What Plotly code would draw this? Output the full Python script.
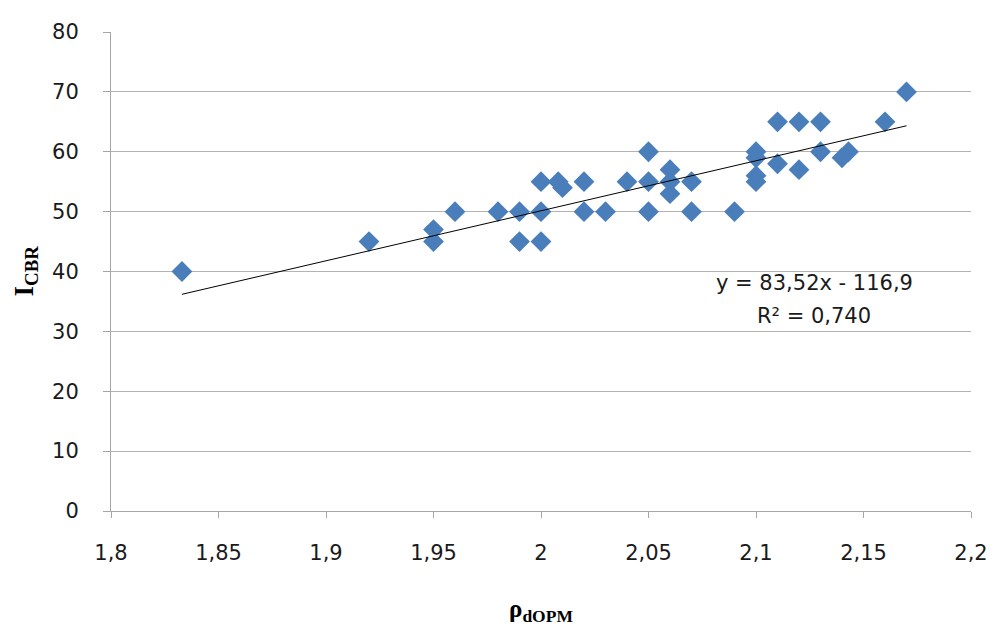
import plotly.graph_objects as go
import numpy as np

# data
rho = [1.833, 1.92, 1.95, 1.95, 1.96, 1.98, 1.99, 1.99,
       2.00, 2.00, 2.00, 2.008, 2.01, 2.02, 2.02, 2.03,
       2.04, 2.05, 2.05, 2.05, 2.06, 2.06, 2.06, 2.07, 2.07,
       2.09, 2.10, 2.10, 2.10, 2.10, 2.11, 2.11, 2.12, 2.12,
       2.13, 2.13, 2.14, 2.143, 2.16, 2.17]
icbr = [40, 45, 47, 45, 50, 50, 50, 45,
        55, 50, 45, 55, 54, 55, 50, 50,
        55, 60, 55, 50, 57, 55, 53, 55, 50,
        50, 60, 59, 56, 55, 65, 58, 65, 57,
        65, 60, 59, 60, 65, 70]

slope = 83.52
intercept = -116.9
eq_text = "y = 83,52x - 116,9"
r2_text = "R² = 0,740"

x_tickvals = [1.8, 1.85, 1.9, 1.95, 2.0, 2.05, 2.1, 2.15, 2.2]
x_ticktext = ["1,8", "1,85", "1,9", "1,95", "2", "2,05", "2,1", "2,15", "2,2"]
y_tickvals = [0, 10, 20, 30, 40, 50, 60, 70, 80]

x_line = np.array([min(rho), max(rho)])
y_line = slope * x_line + intercept

fig = go.Figure()
fig.add_trace(go.Scatter(x=rho, y=icbr, mode="markers",
                         marker=dict(symbol="diamond", size=16, color="#4a7ebb",
                                     line=dict(width=0)),
                         showlegend=False))
fig.add_trace(go.Scatter(x=x_line, y=y_line, mode="lines",
                         line=dict(color="#000000", width=1),
                         showlegend=False))

fam = "DejaVu Sans, sans-serif"
tickfont = dict(family=fam, size=21, color="#1a1a1a")
fig.update_layout(
    width=995, height=630,
    margin=dict(l=103, r=32, t=14, b=127),
    paper_bgcolor="white", plot_bgcolor="white",
    xaxis=dict(range=[1.8, 2.2], tickvals=x_tickvals, ticktext=x_ticktext,
               showgrid=False, zeroline=False, showline=True, linecolor="#a6a6a6",
               linewidth=1, ticks="outside", ticklen=6, tickcolor="#a6a6a6",
               tickfont=tickfont, ticklabelstandoff=17),
    yaxis=dict(range=[0, 80], tickvals=y_tickvals,
               showgrid=True, gridcolor="#b3b3b3", gridwidth=1,
               zeroline=False, showline=True, linecolor="#a6a6a6",
               linewidth=1, ticks="outside", ticklen=7, tickcolor="#a6a6a6",
               tickfont=tickfont, ticklabelstandoff=20),
    annotations=[
        dict(x=2.127, y=38.0, xref="x", yref="y", text=eq_text, showarrow=False,
             xanchor="center", yanchor="middle",
             font=dict(family=fam, size=21, color="#1a1a1a")),
        dict(x=2.127, y=32.6, xref="x", yref="y", text=r2_text, showarrow=False,
             xanchor="center", yanchor="middle",
             font=dict(family=fam, size=21, color="#1a1a1a")),
        dict(x=0.5, y=-0.207, xref="paper", yref="paper",
             xanchor="center", yanchor="middle",
             text="<b>ρ<sub>dOPM</sub></b>", showarrow=False,
             font=dict(family="Liberation Serif, serif", size=25, color="#000000")),
        dict(x=-0.1, y=0.5, xref="paper", yref="paper", textangle=-90,
             xanchor="center", yanchor="middle",
             text="<b>I<sub>CBR</sub></b>", showarrow=False,
             font=dict(family="Liberation Serif, serif", size=27, color="#000000")),
    ],
)
fig.write_html("out.html")
